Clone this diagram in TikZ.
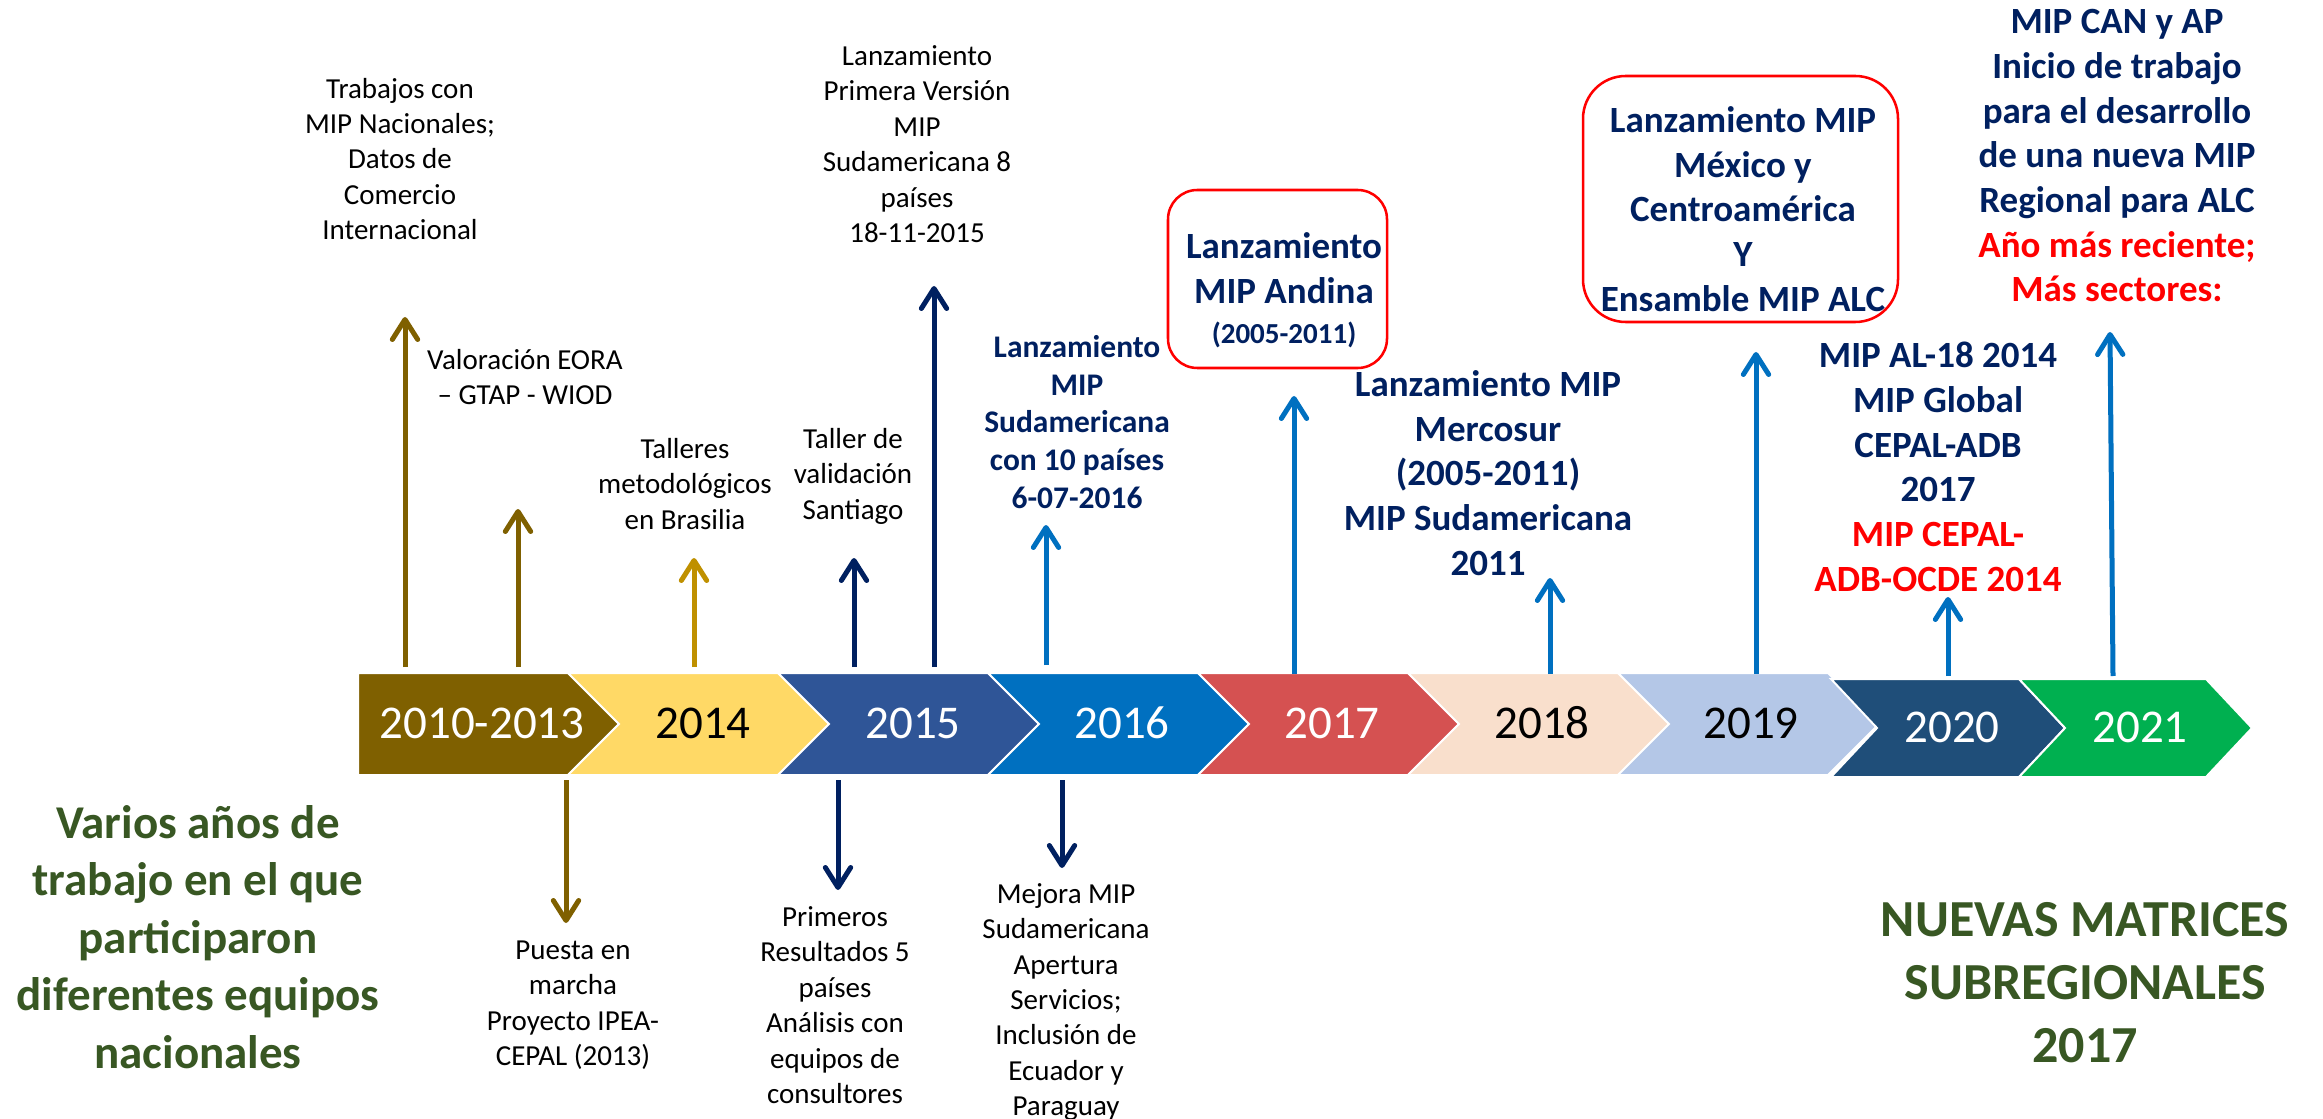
\documentclass[tikz,border=0pt]{standalone}
\usepackage{fontspec}
\setmainfont{Carlito}
\usetikzlibrary{arrows.meta}

\definecolor{mipnavy}{RGB}{0,32,96}
\definecolor{mipred}{RGB}{255,0,0}
\definecolor{mipgreen}{RGB}{56,87,35}
\definecolor{mipbrown}{RGB}{127,96,0}
\definecolor{mipgold}{RGB}{191,144,0}
\definecolor{mipblue}{RGB}{0,112,192}

\tikzset{every picture/.style={line width=0.75pt}}
\tikzset{
	chev/.style={draw=white, line width=1.5pt},
	yearlbl/.style={font=\fontsize{35.25}{42}\selectfont},
	note/.style={align=center, font=\fontsize{21.75}{26.6}\selectfont},
	navynote/.style={align=center, text=mipnavy, font=\bfseries\fontsize{27.75}{33.5}\selectfont},
	navysmall/.style={align=center, text=mipnavy, font=\bfseries\fontsize{23.6}{28.35}\selectfont},
	greennote/.style={align=center, text=mipgreen, font=\bfseries\fontsize{35.25}{43.1}\selectfont},
	greenbig/.style={align=center, text=mipgreen, font=\bfseries\fontsize{39}{47.25}\selectfont},
	redbox/.style={draw=mipred, line width=1.9pt},
	arr/.style={line width=3.75pt, -{Straight Barb[length=15pt,width=19pt,round]}}
}

\begin{document}
\begin{tikzpicture}[x=0.75pt,y=0.75pt,yscale=-1,xscale=1]
	\useasboundingbox (0,0) rectangle (2323,1119);
	\fill [white] (0,0) rectangle (2323,1119);

	%Shape: Chevron 2010-2013
	\draw [chev, fill={rgb, 255:red, 127; green, 96; blue, 0 }] (358,673) -- (568,673) -- (619,724) -- (568,775) -- (358,775) -- cycle ;
	%Shape: Chevron 2014
	\draw [chev, fill={rgb, 255:red, 255; green, 217; blue, 102 }] (568,673) -- (778,673) -- (829,724) -- (778,775) -- (568,775) -- (619,724) -- cycle ;
	%Shape: Chevron 2015
	\draw [chev, fill={rgb, 255:red, 47; green, 85; blue, 151 }] (778,673) -- (988,673) -- (1039,724) -- (988,775) -- (778,775) -- (829,724) -- cycle ;
	%Shape: Chevron 2016
	\draw [chev, fill={rgb, 255:red, 0; green, 112; blue, 192 }] (988,673) -- (1198,673) -- (1249,724) -- (1198,775) -- (988,775) -- (1039,724) -- cycle ;
	%Shape: Chevron 2017
	\draw [chev, fill={rgb, 255:red, 213; green, 81; blue, 81 }] (1198,673) -- (1408,673) -- (1459,724) -- (1408,775) -- (1198,775) -- (1249,724) -- cycle ;
	%Shape: Chevron 2018
	\draw [chev, fill={rgb, 255:red, 249; green, 223; blue, 204 }] (1408,673) -- (1618,673) -- (1669,724) -- (1618,775) -- (1408,775) -- (1459,724) -- cycle ;
	%Shape: Chevron 2019
	\draw [chev, fill={rgb, 255:red, 180; green, 199; blue, 231 }] (1618,673) -- (1828,673) -- (1879,724) -- (1828,775) -- (1618,775) -- (1669,724) -- cycle ;
	%Shape: Chevron 2020
	\draw [chev, fill={rgb, 255:red, 31; green, 78; blue, 121 }] (1831,679) -- (2019,679) -- (2065,728) -- (2019,777) -- (1831,777) -- (1877,728) -- cycle ;
	%Shape: Chevron 2021
	\draw [chev, fill={rgb, 255:red, 0; green, 176; blue, 80 }] (2019,679) -- (2206,679) -- (2252,728) -- (2206,777) -- (2019,777) -- (2065,728) -- cycle ;

	%Shape: Rounded Rectangle Andina
	\draw [redbox, rounded corners=22pt] (1168,190) rectangle (1387,368) ;
	%Shape: Rounded Rectangle Mexico
	\draw [redbox, rounded corners=32pt] (1583,76) rectangle (1898,322) ;

	% Text Node
	\draw (482,723) node (yr2010) [yearlbl, text=white] {2010-2013};
	% Text Node
	\draw (703,723) node (yr2014) [yearlbl] {2014};
	% Text Node
	\draw (913,723) node (yr2015) [yearlbl, text=white] {2015};
	% Text Node
	\draw (1122,723) node (yr2016) [yearlbl, text=white] {2016};
	% Text Node
	\draw (1332,723) node (yr2017) [yearlbl, text=white] {2017};
	% Text Node
	\draw (1542,723) node (yr2018) [yearlbl] {2018};
	% Text Node
	\draw (1751,723) node (yr2019) [yearlbl] {2019};
	% Text Node
	\draw (1952,727) node (yr2020) [yearlbl, text=white] {2020};
	% Text Node
	\draw (2140,727) node (yr2021) [yearlbl, text=white] {2021};

	% Text Node
	\draw (400,159) node (trabajos) [note] {Trabajos con\\MIP Nacionales;\\Datos de\\Comercio\\Internacional};
	% Text Node
	\draw (525,377) node (valoracion) [note] {Valoración EORA\\– GTAP - WIOD};
	% Text Node
	\draw (685,484) node (talleres) [note] {Talleres\\metodológicos\\en Brasilia};
	% Text Node
	\draw (853,476) node (validacion) [note] {Taller de\\validación\\Santiago};
	% Text Node
	\draw (917,144) node (primversion) [note] {Lanzamiento\\Primera Versión\\MIP\\Sudamericana 8\\países\\18-11-2015};
	% Text Node
	\draw (1077,422) node (sud10) [navysmall] {Lanzamiento\\MIP\\Sudamericana\\con 10 países\\6-07-2016};
	% Text Node
	\draw (1284,290) node (andina) [navynote] {Lanzamiento\\MIP Andina\\[-3.5pt]{\fontsize{21.75}{26}\selectfont (2005-2011)}};
	% Text Node
	\draw (1488,473) node (mercosur) [navynote] {Lanzamiento MIP\\Mercosur\\(2005-2011)\\MIP Sudamericana\\2011};
	% Text Node
	\draw (1743,209) node (mexico) [navynote] {Lanzamiento MIP\\México y\\Centroamérica\\Y\\Ensamble MIP ALC};
	% Text Node
	\draw (1938,467) node (al18) [navynote] {MIP AL-18 2014\\MIP Global\\CEPAL-ADB\\2017\\\textcolor{mipred}{MIP CEPAL-}\\\textcolor{mipred}{ADB-OCDE 2014}};
	% Text Node
	\draw (2117,156) node (canap) [navynote] {MIP CAN y AP\\Inicio de trabajo\\para el desarrollo\\de una nueva MIP\\Regional para ALC\\\textcolor{mipred}{Año más reciente;}\\\textcolor{mipred}{Más sectores:}};
	% Text Node
	\draw (573,1005) node (puesta) [note] {Puesta en\\marcha\\Proyecto IPEA-\\CEPAL (2013)};
	% Text Node
	\draw (835,1005) node (primeros) [note] {Primeros\\Resultados 5\\países\\Análisis con\\equipos de\\consultores};
	% Text Node
	\draw (1066,1002) node (mejora) [note] {Mejora MIP\\Sudamericana\\Apertura\\Servicios;\\Inclusión de\\Ecuador y\\Paraguay};
	% Text Node
	\draw (198,937) node (varios) [greennote] {Varios años de\\trabajo en el que\\participaron\\diferentes equipos\\nacionales};
	% Text Node
	\draw (2085,983) node (nuevas) [greenbig] {NUEVAS MATRICES\\SUBREGIONALES\\2017};

	% Arrow ends
	\coordinate (a1s) at (405,667); \coordinate (a1e) at (405,317);
	\coordinate (a2s) at (518,667); \coordinate (a2e) at (518,509);
	\coordinate (a3s) at (694,667); \coordinate (a3e) at (694,558);
	\coordinate (a4s) at (854,667); \coordinate (a4e) at (854,558);
	\coordinate (a5s) at (934,667); \coordinate (a5e) at (934,286);
	\coordinate (a6s) at (1046,665); \coordinate (a6e) at (1046,525);
	\coordinate (a7s) at (1294,674); \coordinate (a7e) at (1294,396);
	\coordinate (a8s) at (1550,674); \coordinate (a8e) at (1550,578);
	\coordinate (a9s) at (1756,674); \coordinate (a9e) at (1756,352);
	\coordinate (a10s) at (1948,676); \coordinate (a10e) at (1948,597);
	\coordinate (a11s) at (2113,676); \coordinate (a11e) at (2110,332);
	\coordinate (d1s) at (566,780); \coordinate (d1e) at (566,923);
	\coordinate (d2s) at (838,780); \coordinate (d2e) at (838,890);
	\coordinate (d3s) at (1062,780); \coordinate (d3e) at (1062,868);

	% Up arrows
	\draw [arr, mipbrown] (a1s) -- (a1e);
	\draw [arr, mipbrown] (a2s) -- (a2e);
	\draw [arr, mipgold] (a3s) -- (a3e);
	\draw [arr, mipnavy] (a4s) -- (a4e);
	\draw [arr, mipnavy] (a5s) -- (a5e);
	\draw [arr, mipblue] (a6s) -- (a6e);
	\draw [arr, mipblue] (a7s) -- (a7e);
	\draw [arr, mipblue] (a8s) -- (a8e);
	\draw [arr, mipblue] (a9s) -- (a9e);
	\draw [arr, mipblue] (a10s) -- (a10e);
	\draw [arr, mipblue] (a11s) -- (a11e);
	% Down arrows
	\draw [arr, mipbrown] (d1s) -- (d1e);
	\draw [arr, mipnavy] (d2s) -- (d2e);
	\draw [arr, mipnavy] (d3s) -- (d3e);

\end{tikzpicture}
\end{document}
